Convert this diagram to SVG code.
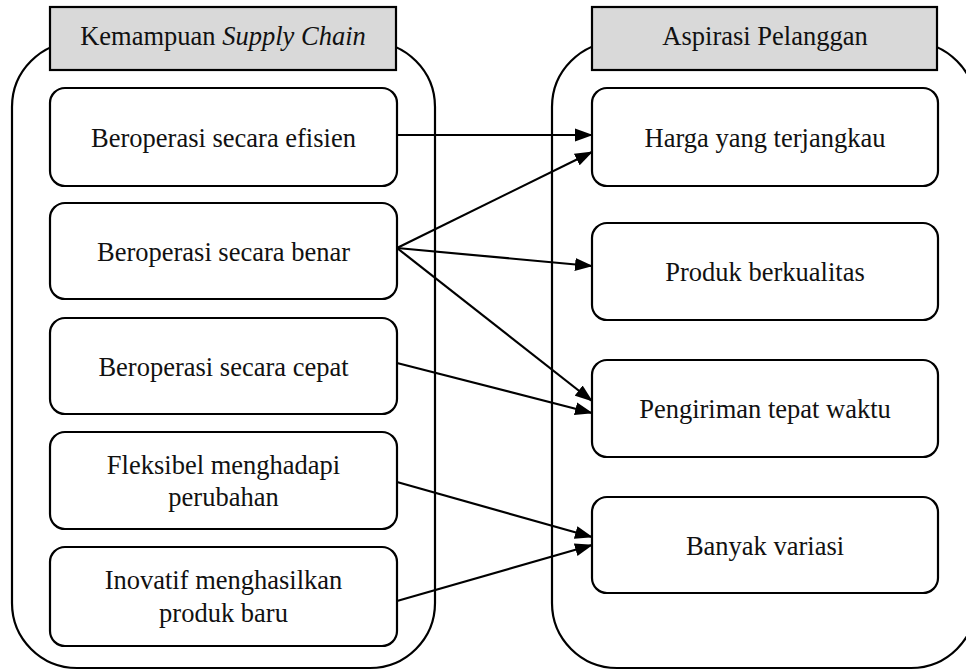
<svg xmlns="http://www.w3.org/2000/svg" width="966" height="670" viewBox="0 0 966 670">
<defs>
<style>
.cont{fill:#fff;stroke:#000;stroke-width:2.2}
.head{fill:#d9d9d9;stroke:#000;stroke-width:2.2}
.box{fill:#fff;stroke:#000;stroke-width:2.2}
.c{stroke:#000;stroke-width:2.2;fill:none;marker-end:url(#ah)}
</style>
<marker id="ah" markerUnits="userSpaceOnUse" markerWidth="18" markerHeight="14" viewBox="0 0 18 14" refX="17" refY="7" orient="auto">
<path d="M0,0.5 L18,7 L0,13.5 Z" fill="#000"/>
</marker>
</defs>
<rect width="966" height="670" fill="#fff"/>
<g font-family="Liberation Serif, Times New Roman, DejaVu Serif, serif" font-size="26.5" fill="#111" text-anchor="middle">
<g id="left-container">
<rect class="cont" x="12" y="42" width="423" height="626" rx="65" ry="65"/>
<rect class="head" x="50" y="7" width="346" height="63"/>
<text x="223" y="45">Kemampuan <tspan font-style="italic">Supply Chain</tspan></text>
</g>
<g id="right-container">
<rect class="cont" x="552" y="42" width="424" height="626" rx="65" ry="65"/>
<rect class="head" x="592" y="7" width="345" height="63"/>
<text x="765" y="45">Aspirasi Pelanggan</text>
</g>
<g id="n-efisien">
<rect class="box" x="50" y="88" width="347" height="98" rx="15"/>
<text x="223.5" y="147">Beroperasi secara efisien</text>
</g>
<g id="n-benar">
<rect class="box" x="50" y="203" width="347" height="96" rx="15"/>
<text x="223.5" y="261">Beroperasi secara benar</text>
</g>
<g id="n-cepat">
<rect class="box" x="50" y="318" width="347" height="96" rx="15"/>
<text x="223.5" y="376">Beroperasi secara cepat</text>
</g>
<g id="n-fleksibel">
<rect class="box" x="50" y="432" width="347" height="97" rx="15"/>
<text x="223.5" y="474">Fleksibel menghadapi</text>
<text x="223.5" y="506">perubahan</text>
</g>
<g id="n-inovatif">
<rect class="box" x="50" y="547" width="347" height="99" rx="15"/>
<text x="223.5" y="589">Inovatif menghasilkan</text>
<text x="223.5" y="622">produk baru</text>
</g>
<g id="n-harga">
<rect class="box" x="592" y="88" width="346" height="98" rx="15"/>
<text x="765" y="147">Harga yang terjangkau</text>
</g>
<g id="n-produk">
<rect class="box" x="592" y="223" width="346" height="97" rx="15"/>
<text x="765" y="281">Produk berkualitas</text>
</g>
<g id="n-pengiriman">
<rect class="box" x="592" y="360" width="346" height="97" rx="15"/>
<text x="765" y="418">Pengiriman tepat waktu</text>
</g>
<g id="n-variasi">
<rect class="box" x="592" y="497" width="346" height="96" rx="15"/>
<text x="765" y="555">Banyak variasi</text>
</g>
</g>
<g id="connectors">
<line class="c" x1="397" y1="135" x2="592" y2="135"/>
<line class="c" x1="397" y1="248" x2="592" y2="152"/>
<line class="c" x1="397" y1="248" x2="592" y2="266"/>
<line class="c" x1="397" y1="248" x2="592" y2="401"/>
<line class="c" x1="397" y1="363" x2="592" y2="413"/>
<line class="c" x1="397" y1="482" x2="592" y2="537"/>
<line class="c" x1="397" y1="601" x2="592" y2="545"/>
</g>
</svg>
